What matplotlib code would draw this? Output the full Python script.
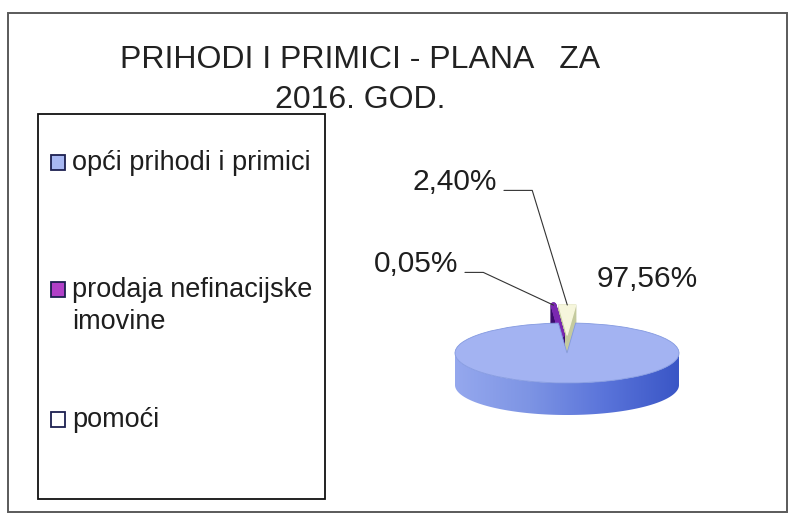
import matplotlib
matplotlib.use('Agg')
import matplotlib.pyplot as plt
import numpy as np
from matplotlib.patches import Rectangle, Polygon
from matplotlib.colors import LinearSegmentedColormap

plt.rcParams['font.family'] = ['Liberation Sans', 'DejaVu Sans']

# data
title_lines = ['PRIHODI I PRIMICI - PLANA   ZA', '2016. GOD.']
labels = ['opći prihodi i primici', 'prodaja nefinacijske\nimovine', 'pomoći']
values = [97.56, 0.05, 2.40]

top_colors = ['#a3b3f2', '#7a28b0', '#f6f6dc']
side_colors = ['#7d94e4', '#3a0c6c', '#c4ca9e']
legend_colors = ['#a8b8f2', '#b040c8', '#ffffff']

W, H = 789, 513
fig = plt.figure(figsize=(W / 100, H / 100), dpi=100)


def fx(x):
    return x / W


def fy(y):
    return 1 - y / H


# outer frame
fig.add_artist(Rectangle((fx(8), fy(512)), fx(787) - fx(8), fy(13) - fy(512),
                         transform=fig.transFigure, fill=False, ec='#5a5a5a', lw=1.4))

# title
for line, base in zip(title_lines, [68, 108]):
    fig.text(fx(360), fy(base), line, ha='center', va='baseline', fontsize=23, color='#222222')

# legend
fig.add_artist(Rectangle((fx(38), fy(499)), fx(325) - fx(38), fy(114) - fy(499),
                         transform=fig.transFigure, fill=False, ec='#111111', lw=1.3))
legend_base = [170, 297, 427]
for lab, col, base in zip(labels, legend_colors, legend_base):
    fig.add_artist(Rectangle((fx(51), fy(base)), fx(65) - fx(51), fy(base - 15) - fy(base),
                             transform=fig.transFigure, fc=col, ec='#1c2050', lw=1.3))
    for j, part in enumerate(lab.split('\n')):
        fig.text(fx(72), fy(base + 32 * j), part, ha='left', va='baseline',
                 fontsize=19.5, color='#1e1e1e')

# pie
cx, cy, a_px, b_px = 567, 353, 112, 30
left, right, top, bottom = 420, 720, 280, 440
ax = fig.add_axes([fx(left), fy(bottom), (right - left) / W, (bottom - top) / H])

depth = 32 / b_px
explode = [0, 0.6, 0.6]
small = (values[1] + values[2]) / sum(values) * 360
start = 90 - small / 2
lws = [0, 4, 1.0]

# extruded small slices
n = 30
for k in range(n):
    d = depth * (1 - k / (n - 1))
    wedges, _ = ax.pie(values, explode=explode, startangle=start, counterclock=False,
                       center=(0, -d), colors=side_colors)
    wedges[0].remove()
    for w, lw, c in zip(wedges[1:], lws[1:], side_colors[1:]):
        w.set_edgecolor(c)
        w.set_linewidth(lw)
        w.set_joinstyle('round')
        w.set_zorder(1)

# side band of the big slice
t = np.linspace(np.pi, 2 * np.pi, 200)
band = np.vstack([np.column_stack([np.cos(t), np.sin(t)]),
                  np.column_stack([np.cos(t), np.sin(t) - depth])[::-1]])
band_patch = Polygon(band, closed=True, transform=ax.transData)
cmap = LinearSegmentedColormap.from_list('side', ['#95a8ee', '#7d94e4', '#5a74da', '#3a56c6'])
im = ax.imshow(np.linspace(0, 1, 256).reshape(1, -1), cmap=cmap, aspect='auto',
               extent=(-1, 1, -depth - 1, 0), zorder=3)
im.set_clip_path(band_patch)

# top faces
wedges, _ = ax.pie(values, explode=explode, startangle=start, counterclock=False,
                   colors=top_colors)
wedges[0].set_zorder(4)
wedges[0].set_edgecolor('#8399e0')
wedges[0].set_linewidth(0.6)
for w, lw, c in zip(wedges[1:], lws[1:], top_colors[1:]):
    w.set_edgecolor(c)
    w.set_linewidth(lw)
    w.set_joinstyle('round')
    w.set_zorder(2)

# labels
pct = [f'{v:.2f}'.replace('.', ',') + '%' for v in values]
ax.annotate(pct[0], xy=(0, 0), xytext=(597, H - 287), textcoords='figure pixels',
            ha='left', va='baseline', fontsize=21.5, color='#1e1e1e', annotation_clip=False)
label_pos = {1: (458, 272, -25), 2: (497, 190, 107)}
for i, (tx, ty, ang) in label_pos.items():
    w = wedges[i]
    th = np.deg2rad((w.theta1 + w.theta2) / 2)
    px = w.center[0] + w.r * np.cos(th)
    py = w.center[1] + w.r * np.sin(th)
    ax.annotate(pct[i], xy=(px, py), xytext=(tx, H - ty), textcoords='figure pixels',
                ha='right', va='baseline', fontsize=21.5, color='#1e1e1e',
                annotation_clip=False, zorder=6,
                arrowprops=dict(arrowstyle='-', color='#333333', lw=0.8, shrinkA=3, shrinkB=0,
                                relpos=(1, 0.2),
                                connectionstyle=f'angle,angleA=0,angleB={ang},rad=0'))

ax.set_aspect('auto')
ax.set_xlim((left - cx) / a_px, (right - cx) / a_px)
ax.set_ylim((cy - bottom) / b_px, (cy - top) / b_px)
ax.axis('off')

fig.savefig('out.png', dpi=100)
